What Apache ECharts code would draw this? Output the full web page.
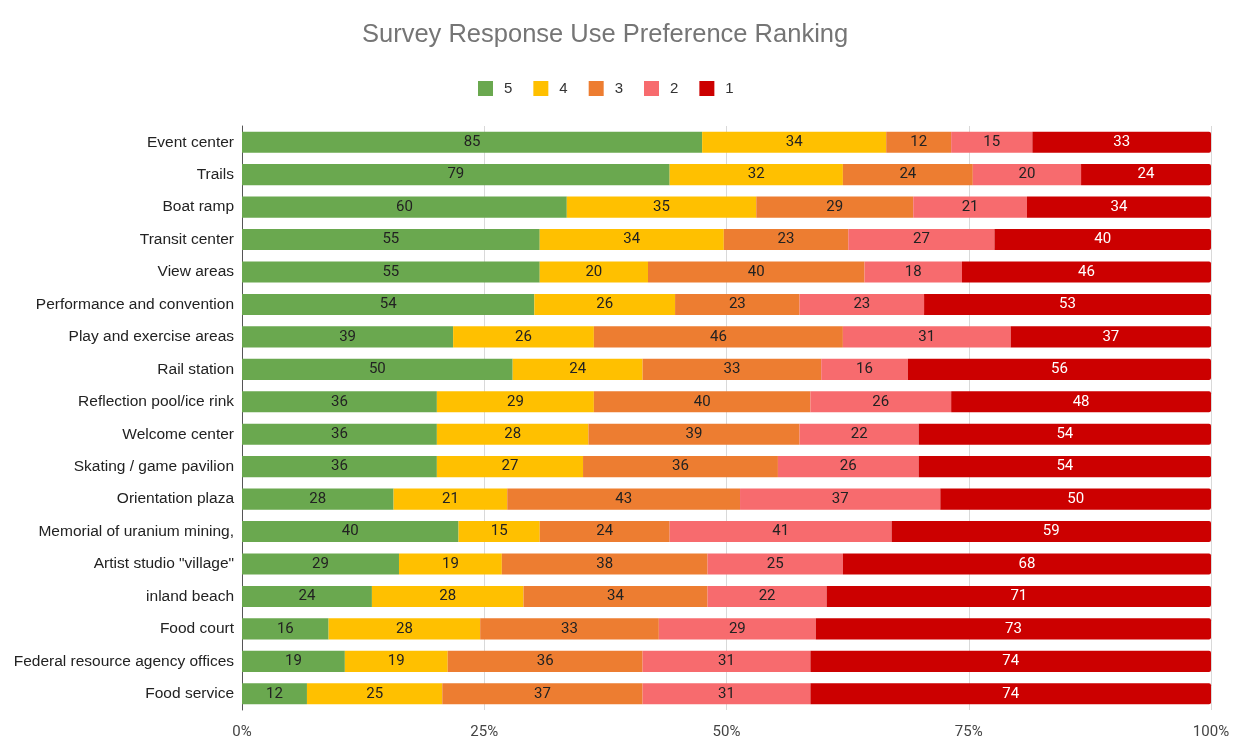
<!DOCTYPE html>
<html>
<head>
<meta charset="utf-8">
<script src="https://cdn.jsdelivr.net/npm/echarts@6/dist/echarts.min.js"></script>
<style>html,body{margin:0;padding:0;background:#fff;}#chart{width:1247px;height:740px;}</style>
</head>
<body>
<div id="chart"></div>
<script>
const categories = ["Event center","Trails","Boat ramp","Transit center","View areas","Performance and convention","Play and exercise areas","Rail station","Reflection pool/ice rink","Welcome center","Skating / game pavilion","Orientation plaza","Memorial of uranium mining,","Artist studio \"village\"","inland beach","Food court","Federal resource agency offices","Food service"];
const rank5 = [85,79,60,55,55,54,39,50,36,36,36,28,40,29,24,16,19,12];
const rank4 = [34,32,35,34,20,26,26,24,29,28,27,21,15,19,28,28,19,25];
const rank3 = [12,24,29,23,40,23,46,33,40,39,36,43,24,38,34,33,36,37];
const rank2 = [15,20,21,27,18,23,31,16,26,22,26,37,41,25,22,29,31,31];
const rank1 = [33,24,34,40,46,53,37,56,48,54,54,50,59,68,71,73,74,74];
const seriesNames = ["5","4","3","2","1"];
const tickLabels = ["0%","25%","50%","75%","100%"];

const all = [rank5, rank4, rank3, rank2, rank1];
const totals = categories.map((c,i)=>all.reduce((s,a)=>s+a[i],0));
const colors = ["#6aa84f","#ffc000","#ed7d31","#f76b6e","#cc0000"];
const labelColors = ["#222","#222","#222","#222","#fff"];

const chart = echarts.init(document.getElementById('chart'));
chart.setOption({
  animation:false,
  title:{text:"Survey Response Use Preference Ranking",left:357,top:17,
    textStyle:{fontFamily:'Liberation Sans, Arial',fontSize:25.5,fontWeight:'normal',color:'#757575'}},
  legend:{top:76,left:473,itemWidth:15,itemHeight:15,itemGap:21,icon:'rect',
    textStyle:{fontFamily:'Liberation Sans, Arial',fontSize:15,color:'#333',padding:[0,0,0,6]},data:seriesNames},
  grid:{left:242,right:36,top:126,bottom:30,containLabel:false,outerBoundsMode:'none'},
  xAxis:{type:'value',min:0,max:100,interval:25,
    axisLabel:{formatter:(v)=>tickLabels[Math.round(v/25)],fontFamily:'Roboto',fontSize:15,color:'#444',margin:15},
    splitLine:{show:true,lineStyle:{color:'#d9d9d9',width:1}},
    axisLine:{show:false},axisTick:{show:false}},
  yAxis:{type:'category',data:categories,inverse:true,
    axisLine:{show:true,lineStyle:{color:'#555',width:1}},axisTick:{show:false},
    axisLabel:{fontFamily:'Liberation Sans, Arial',fontSize:15.5,color:'#222',margin:8}},
  series: all.map((arr,k)=>({
    name:seriesNames[k],type:'bar',stack:'total',barCategoryGap:'35%',
    itemStyle:{color:colors[k],borderRadius:k===4?[0,2,2,0]:0},
    label:{show:true,position:'inside',fontFamily:'Roboto',fontSize:15,color:labelColors[k],
      formatter:(p)=>String(arr[p.dataIndex])},
    data:arr.map((v,i)=>v/totals[i]*100)
  }))
});
</script>
</body>
</html>
